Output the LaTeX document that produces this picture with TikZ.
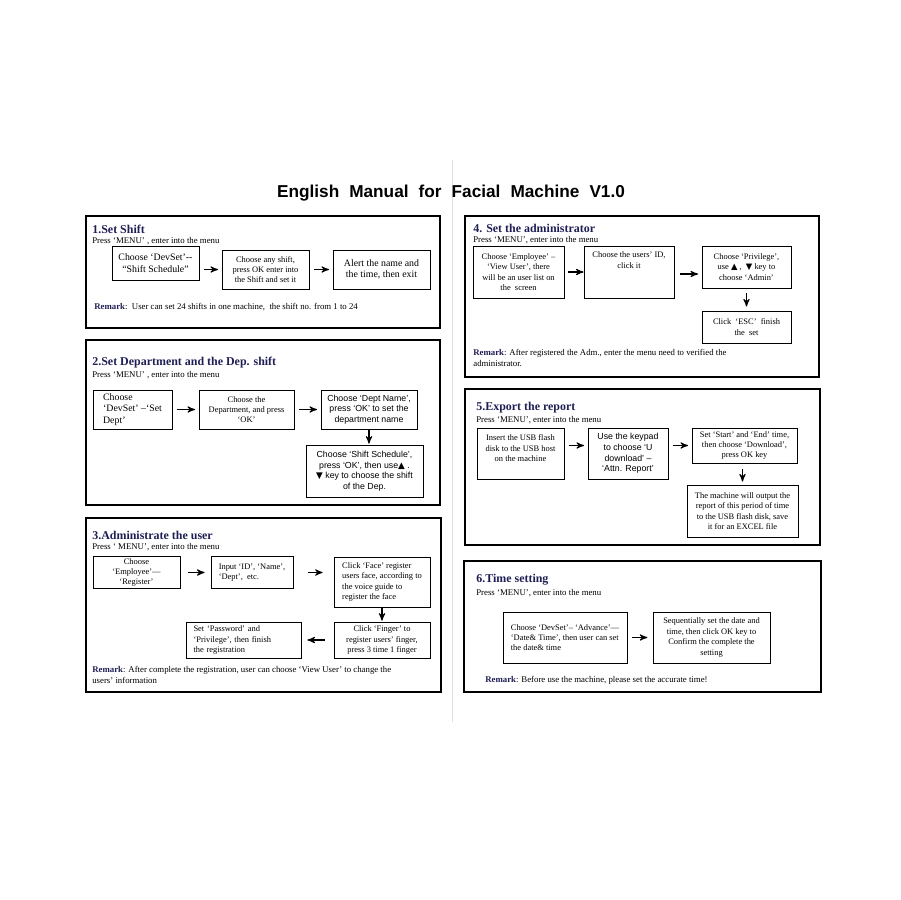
\documentclass[tikz,border=0pt]{standalone}
\usepackage{fontspec}
\setmainfont{Liberation Serif}
\setsansfont{Liberation Sans}
\newfontfamily\symfont{DejaVu Sans}
\usetikzlibrary{arrows}
\definecolor{navy}{RGB}{30,30,85}

\begin{document}
\begin{tikzpicture}[>=stealth',x=0.02cm,y=-0.02cm,
  box/.style={draw,line width=0.55pt,inner sep=1pt,align=center,font=\fontsize{4.8}{5.9}\selectfont},
  left box/.style={box,align=left},
  big/.style={font=\fontsize{5.6}{6.6}\selectfont},
  sans box/.style={box,font=\sffamily\fontsize{5}{6}\selectfont},
  frame/.style={line width=1.1pt},
  head/.style={anchor=west,inner sep=0pt,text=navy,font=\fontsize{6.8}{8}\selectfont\bfseries},
  note/.style={anchor=west,inner sep=0pt,align=left,font=\fontsize{5}{6.2}\selectfont}]

  \useasboundingbox (0,0) rectangle (900,900);
  \draw[black!12,line width=0.5pt] (452,160) -- (452,722);

  \node[inner sep=0pt,font=\sffamily\bfseries\fontsize{9.8}{11}\selectfont] (title) at (451,193)
    {English\hspace{3pt} Manual\hspace{3pt} for\hspace{3pt} Facial\hspace{3pt} Machine\hspace{3pt} V1.0};

  \draw[frame] (86,216) rectangle (440,328);
  \draw[frame] (86,340) rectangle (440,505);
  \draw[frame] (86,518) rectangle (441,692);
  \draw[frame] (465,216) rectangle (819,377);
  \draw[frame] (465,389) rectangle (820,545);
  \draw[frame] (464,561) rectangle (821,692);

  \node[head] (h1) at (92,229) {1.Set Shift};
  \node[note] (p1) at (92,241) {Press `MENU' , enter into the menu};
  \node[box,big,minimum width=1.74cm,minimum height=0.68cm] (11) at (155.5,263) {Choose `DevSet'-{}-\\``Shift Schedule''};
  \node[box,minimum width=1.74cm,minimum height=0.78cm] (12) at (265.5,269.5) {Choose any shift,\\press OK enter into\\the Shift and set it};
  \node[box,big,minimum width=1.94cm,minimum height=0.78cm] (13) at (381.5,269.5) {Alert the name and\\the time, then exit};
  \node[note] (r1) at (94,307) {\textbf{\color{navy}Remark}:\ \ User can set 24 shifts in one machine,\ \ the shift no. from 1 to 24};

  \node[head] (h2) at (92,363) {2.Set Department and the Dep. shift};
  \node[note] (p2) at (92,375) {Press `MENU' , enter into the menu};
  \node[left box,big,minimum width=1.58cm,minimum height=0.78cm] (21) at (132.5,409.5) {Choose\\`DevSet' --`Set\\Dept'};
  \node[box,minimum width=1.90cm,minimum height=0.78cm] (22) at (246.5,409.5) {Choose the\\Department, and press\\`OK'};
  \node[sans box,minimum width=1.92cm,minimum height=0.78cm] (23) at (369,409.5) {Choose `Dept Name',\\press `OK' to set the\\department name};
  \node[sans box,minimum width=2.34cm,minimum height=1.04cm] (24) at (364.5,471) {Choose `Shift Schedule',\\press `OK', then use{\symfont▲} .\\{\symfont▼} key to choose the shift\\of the Dep.};

  \node[head] (h3) at (92,535) {3.Administrate the user};
  \node[note] (p3) at (92,547) {Press ` MENU', enter into the menu};
  \node[box,font=\fontsize{4.8}{5.6}\selectfont,minimum width=1.74cm,minimum height=0.64cm] (31) at (136.5,572.5) {Choose\\`Employee'---\\`Register'};
  \node[left box,minimum width=1.64cm,minimum height=0.64cm] (32) at (252,572.5) {Input `ID', `Name',\\`Dept',~ etc.};
  \node[left box,minimum width=1.92cm,minimum height=1.00cm] (33) at (382,582) {Click `Face' register\\users face, according to\\the voice guide to\\register the face};
  \node[box,minimum width=1.92cm,minimum height=0.72cm] (34) at (382,640) {Click `Finger' to\\register users' finger,\\press 3 time 1 finger};
  \node[left box,inner xsep=0.15cm,text width=2.0cm,minimum height=0.72cm] (35) at (243.5,640) {Set `Password' and\\`Privilege', then finish\\the registration};
  \node[note] (r3) at (92,674.5) {\textbf{\color{navy}Remark}: After complete the registration, user can choose `View User' to change the\\users' information};

  \node[head] (h4) at (473,228.5) {4. Set the administrator};
  \node[note] (p4) at (473,240.5) {Press `MENU', enter into the menu};
  \node[box,minimum width=1.82cm,minimum height=1.04cm] (41) at (518.5,272) {Choose `Employee' --\\`View User', there\\will be an user list on\\the~ screen};
  \node[box,minimum width=1.80cm,minimum height=1.04cm] (42) at (629,272) {};
  \node[anchor=north,inner sep=0pt,align=center,font=\fontsize{4.8}{5.9}\selectfont] (42t) at ([yshift=-0.12cm]42.north) {Choose the users' ID,\\click it};
  \node[box,minimum width=1.78cm,minimum height=0.84cm] (43) at (746.5,267) {Choose `Privilege',\\use {\symfont▲} ,~ {\symfont▼} key to\\choose `Admin'};
  \node[box,minimum width=1.78cm,minimum height=0.64cm] (44) at (746.5,327) {Click~ `ESC'~ finish\\the~ set};
  \node[note] (r4) at (473,358) {\textbf{\color{navy}Remark}: After registered the Adm., enter the menu need to verified the\\administrator.};

  \node[head] (h5) at (476,408) {5.Export the report};
  \node[note] (p5) at (476,420) {Press `MENU', enter into the menu};
  \node[box,minimum width=1.74cm,minimum height=1.02cm] (51) at (520.5,453.5) {Insert the USB flash\\disk to the USB host\\on the machine\\[0pt]};
  \node[sans box,minimum width=1.60cm,minimum height=1.02cm] (52) at (628,453.5) {Use the keypad\\to choose `U\\download' --\\`Attn. Report'};
  \node[box,minimum width=2.10cm,minimum height=0.70cm] (53) at (744.5,445.5) {Set `Start' and `End' time,\\then choose `Download',\\press OK key};
  \node[box,minimum width=2.22cm,minimum height=1.04cm] (54) at (742.5,511) {The machine will output the\\report of this period of time\\to the USB flash disk, save\\it for an EXCEL file};

  \node[head] (h6) at (476,580) {6.Time setting};
  \node[note] (p6) at (476,593) {Press `MENU', enter into the menu};
  \node[left box,minimum width=2.48cm,minimum height=1.02cm] (61) at (565,637.5) {Choose `DevSet'-- `Advance'---\\`Date\& Time', then user can set\\the date\& time};
  \node[box,minimum width=2.34cm,minimum height=1.02cm] (62) at (711.5,637.5) {Sequentially set the date and\\time, then click OK key to\\Confirm the complete the\\setting};
  \node[note] (r6) at (485,680) {\textbf{\color{navy}Remark}: Before use the machine, please set the accurate time!};

  \path[->,line width=0.6pt,shorten <=2.5pt,shorten >=2pt]
    (11.east |- 12) edge (12.west)
    (12) edge (13)
    (21) edge (22)
    (22) edge (23)
    (23.south) edge[shorten <=0pt,shorten >=0.5pt] (23.south |- 24.north)
    (31) edge[shorten <=4.5pt,shorten >=3.4pt] (32)
    (32.east) edge[shorten <=8pt,shorten >=6.2pt] (33.west |- 32.east)
    (33) edge[shorten <=0pt,shorten >=0.5pt] (34)
    (34) edge[shorten <=5pt,shorten >=3.4pt] (35)
    (41.east |- 42.east) edge[shorten <=2pt,shorten >=0pt] (42.east -| 42.west)
    (42.east |- 0,274) edge[shorten <=3.4pt] (43.west |- 0,274)
    (43) edge[shorten <=2.8pt,shorten >=2.3pt] (44)
    (51.east |- 53) edge (52.west |- 53)
    (52.east |- 53) edge (53.west)
    (53.south -| 54) edge[shorten <=3.4pt,shorten >=1.7pt] (54.north)
    (61) edge[shorten <=2.8pt,shorten >=3pt] (62);

\end{tikzpicture}
\end{document}
